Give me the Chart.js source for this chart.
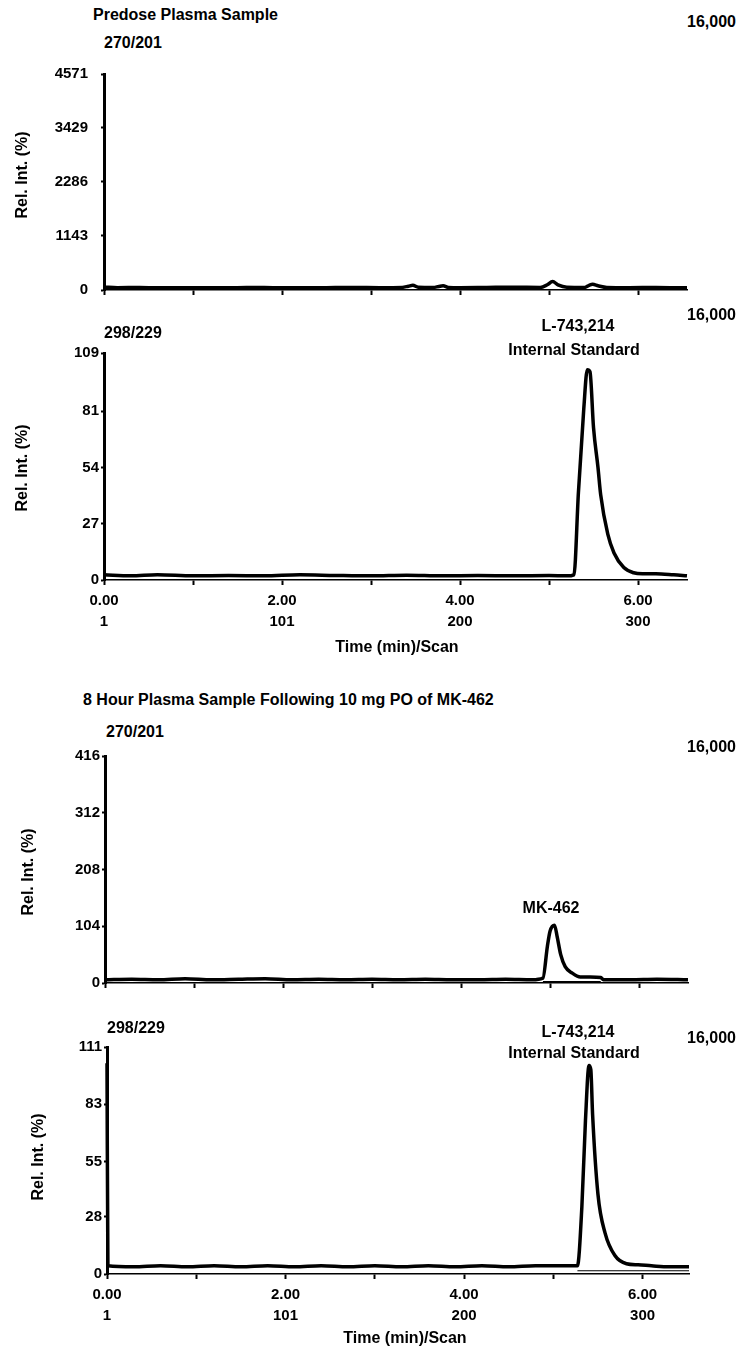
<!DOCTYPE html>
<html lang="en">
<head>
<meta charset="UTF-8">
<title>Plasma Sample Chromatograms</title>
<script src="https://cdn.jsdelivr.net/npm/chart.js"></script>
<style>
  body { margin: 0; background: #fff; width: 738px; height: 1351px; position: relative; overflow: hidden;
         font-family: "Liberation Sans", Arial, sans-serif; font-weight: bold; color: #000; }
  canvas { position: absolute; left: 0; }
  .t { position: absolute; white-space: nowrap; font-size: 16px; line-height: 18px; transform: translateY(-50%); }
  .c { position: absolute; white-space: nowrap; font-size: 16px; line-height: 18px; transform: translate(-50%, -50%); text-align: center; }
  .r { position: absolute; white-space: nowrap; font-size: 16px; line-height: 18px; transform: translateY(-50%); right: 2px; }
  .yt { position: absolute; white-space: nowrap; font-size: 16px; line-height: 18px; transform: translate(-50%, -50%) rotate(-90deg); }
</style>
</head>
<body>
<canvas id="c1"></canvas>
<canvas id="c2"></canvas>
<canvas id="c3"></canvas>
<canvas id="c4"></canvas>

<div class="t" style="left:93px;top:15px">Predose Plasma Sample</div>
<div class="t" style="left:104px;top:43px">270/201</div>
<div class="r" style="top:22px">16,000</div>
<div class="yt" style="left:22px;top:175px">Rel. Int. (%)</div>

<div class="t" style="left:104px;top:333px">298/229</div>
<div class="c" style="left:578px;top:326px">L-743,214</div>
<div class="c" style="left:574px;top:350px">Internal Standard</div>
<div class="r" style="top:315px">16,000</div>
<div class="yt" style="left:22px;top:468px">Rel. Int. (%)</div>
<div class="c" style="left:397px;top:647px">Time (min)/Scan</div>

<div class="t" style="left:83px;top:700px">8 Hour Plasma Sample Following 10 mg PO of MK-462</div>
<div class="t" style="left:106px;top:732px">270/201</div>
<div class="r" style="top:747px">16,000</div>
<div class="c" style="left:551px;top:908px">MK-462</div>
<div class="yt" style="left:28px;top:872px">Rel. Int. (%)</div>

<div class="t" style="left:107px;top:1028px">298/229</div>
<div class="c" style="left:578px;top:1032px">L-743,214</div>
<div class="c" style="left:574px;top:1053px">Internal Standard</div>
<div class="r" style="top:1038px">16,000</div>
<div class="yt" style="left:38px;top:1157px">Rel. Int. (%)</div>
<div class="c" style="left:405px;top:1338px">Time (min)/Scan</div>

<script>
// x axis: time in minutes, with scan numbers under the labelled ticks
const xTickTimes = [0, 1, 2, 3, 4, 5, 6];
const xLabelTimes = [0, 2, 4, 6];
const xLabelScans = ['1', '101', '200', '300'];

// predose, m/z 270/201
const p1Ticks = [0, 1143, 2286, 3429, 4571];
const p1Time = [0, 0.15, 0.4, 0.7, 1.0, 1.3, 1.6, 1.9, 2.2, 2.5, 2.8, 3.1, 3.35, 3.42, 3.47, 3.53, 3.7, 3.76, 3.81, 3.87, 4.0, 4.3, 4.6, 4.9, 4.98, 5.04, 5.1, 5.2, 5.4, 5.45, 5.49, 5.55, 5.65, 5.9, 6.2, 6.55];
const p1Int = [60, 50, 55, 45, 50, 45, 55, 50, 45, 50, 55, 50, 55, 80, 100, 60, 55, 75, 90, 55, 50, 55, 60, 55, 110, 180, 110, 60, 55, 100, 120, 90, 55, 50, 55, 45];

// predose, m/z 298/229 (internal standard)
const p2Ticks = [0, 27, 54, 81, 109];
const p2Time = [0, 0.3, 0.6, 1.0, 1.4, 1.8, 2.2, 2.6, 3.0, 3.4, 3.8, 4.2, 4.6, 5.0, 5.2, 5.28, 5.33, 5.39, 5.43, 5.46, 5.5, 5.55, 5.58, 5.66, 5.73, 5.84, 5.95, 6.05, 6.2, 6.4, 6.55];
const p2Int = [2.5, 2, 2.5, 2, 2.2, 2, 2.5, 2.2, 2, 2.3, 2, 2.2, 2, 2.2, 2, 2.5, 42, 82, 101, 100, 73, 54, 41, 22, 13, 6, 3.5, 3, 3, 2.5, 2];

// 8 hour sample, m/z 270/201 (MK-462)
const p3Ticks = [0, 104, 208, 312, 416];
const p3Time = [0, 0.3, 0.6, 0.9, 1.2, 1.5, 1.8, 2.1, 2.4, 2.7, 3.0, 3.3, 3.6, 3.9, 4.2, 4.5, 4.8, 4.92, 4.97, 5.0, 5.05, 5.08, 5.12, 5.17, 5.25, 5.34, 5.45, 5.57, 5.6, 5.9, 6.2, 6.55];
const p3Int = [6, 7, 6, 8, 6, 7, 8, 6, 7, 6, 7, 6, 7, 6, 6, 7, 6, 9, 67, 95, 106, 85, 52, 30, 18, 11, 11, 10, 6, 6, 7, 6];
const p3BaseTime = [4.92, 5.57];
const p3BaseInt = [2.5, 2.5];

// 8 hour sample, m/z 298/229 (internal standard)
const p4Ticks = [0, 28, 55, 83, 111];
const p4Time = [0, 0.01, 0.3, 0.6, 0.9, 1.2, 1.5, 1.8, 2.1, 2.4, 2.7, 3.0, 3.3, 3.6, 3.9, 4.2, 4.5, 4.8, 5.1, 5.27, 5.32, 5.36, 5.40, 5.42, 5.44, 5.50, 5.58, 5.69, 5.82, 5.95, 6.1, 6.3, 6.52];
const p4Int = [103, 4, 3.5, 4, 3.5, 4, 3.5, 4, 3.5, 4, 3.5, 4, 3.5, 4, 3.5, 4, 3.5, 4, 4, 4, 33, 75, 102, 100, 78, 39, 20, 9, 5, 4.5, 4, 3.5, 3.5];
const p4BaseTime = [5.27, 6.52];
const p4BaseInt = [1.6, 1.6];

Chart.defaults.font.family = '"Liberation Sans", Arial, sans-serif';
Chart.defaults.font.weight = 'bold';
Chart.defaults.font.size = 15;
Chart.defaults.color = '#000';

function pts(ts, vs) {
  return ts.map((t, i) => ({ x: t, y: vs[i] }));
}

function makePanel(id, cfg) {
  const canvas = document.getElementById(id);
  const h = cfg.bottom - cfg.top + 70;
  canvas.width = 738;
  canvas.height = h;
  canvas.style.top = (cfg.top - 10) + 'px';

  const datasets = [{
    data: pts(cfg.time, cfg.val),
    borderColor: '#000', borderWidth: 3.5, pointRadius: 0,
    cubicInterpolationMode: 'monotone', clip: false
  }];
  if (cfg.baseTime) {
    datasets.push({
      data: pts(cfg.baseTime, cfg.baseVal),
      borderColor: '#000', borderWidth: 1.2, pointRadius: 0
    });
  }

  new Chart(canvas, {
    type: 'line',
    data: { datasets },
    options: {
      responsive: false,
      animation: false,
      devicePixelRatio: 1,
      layout: { padding: { top: 10, left: 0, right: 738 - cfg.right, bottom: 10 } },
      plugins: { legend: { display: false }, tooltip: { enabled: false } },
      scales: {
        x: {
          type: 'linear', min: 0, max: cfg.xMax,
          afterFit(s) { s.height = 50; },
          afterBuildTicks(s) { s.ticks = xTickTimes.map(v => ({ value: v })); },
          ticks: {
            display: cfg.xLabels, autoSkip: false, padding: 6, maxRotation: 0,
            font: { size: 15, lineHeight: 1.35 },
            callback(v) {
              const k = xLabelTimes.indexOf(v);
              return k < 0 ? '' : [v.toFixed(2), xLabelScans[k]];
            }
          },
          grid: { drawOnChartArea: false, tickLength: 5, tickWidth: 2, tickColor: '#000', color: '#000' },
          border: { color: '#000', width: 1.5 }
        },
        y: {
          min: 0, max: cfg.yTicks[cfg.yTicks.length - 1],
          afterFit(s) { s.width = cfg.left; },
          afterBuildTicks(s) { s.ticks = cfg.yTicks.map(v => ({ value: v })); },
          ticks: { autoSkip: false, padding: cfg.yPad, font: { size: 15 }, callback: v => String(v) },
          grid: { drawOnChartArea: false, tickLength: 3, tickWidth: 2, tickColor: '#000', color: '#000' },
          border: { color: '#000', width: 3 }
        }
      }
    }
  });
}

makePanel('c1', { top: 62, bottom: 290, left: 104, right: 687, xMax: 6.55, xLabels: false, yPad: 13,
  yTicks: p1Ticks, time: p1Time, val: p1Int });
makePanel('c2', { top: 352, bottom: 580, left: 104, right: 687, xMax: 6.55, xLabels: true, yPad: 2,
  yTicks: p2Ticks, time: p2Time, val: p2Int });
makePanel('c3', { top: 755, bottom: 983, left: 105, right: 688, xMax: 6.55, xLabels: false, yPad: 2,
  yTicks: p3Ticks, time: p3Time, val: p3Int, baseTime: p3BaseTime, baseVal: p3BaseInt });
makePanel('c4', { top: 1046, bottom: 1274, left: 107, right: 689, xMax: 6.52, xLabels: true, yPad: 2,
  yTicks: p4Ticks, time: p4Time, val: p4Int, baseTime: p4BaseTime, baseVal: p4BaseInt });
</script>
</body>
</html>
